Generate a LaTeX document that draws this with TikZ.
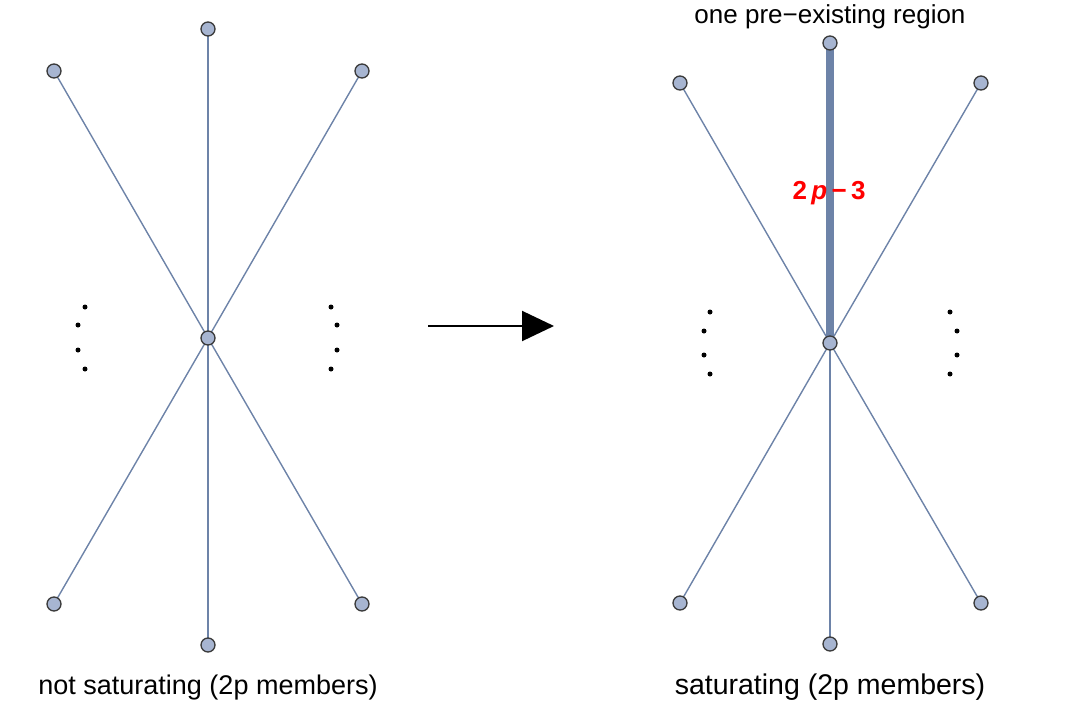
\documentclass[tikz,border=0pt]{standalone}
\usepackage{fontspec}
\setmainfont{Liberation Sans}
\usetikzlibrary{arrows.meta}
\definecolor{edgec}{HTML}{6D83A8}
\definecolor{vfill}{HTML}{A7B5D1}
\definecolor{vdraw}{HTML}{3A3A3A}
\tikzset{
  vtx/.style={circle,draw=vdraw,fill=vfill,line width=1.3pt,minimum size=14pt,inner sep=0pt},
  edge/.style={draw=edgec,line width=1.4pt},
  thickedge/.style={draw=edgec,line width=8pt},
  dotm/.style={circle,fill=black,minimum size=5pt,inner sep=0pt},
  lbl/.style={font=\fontsize{27}{30}\selectfont,inner sep=0pt}
}
\begin{document}
\begin{tikzpicture}[x=1pt,y=-1pt]
\useasboundingbox (0,0) rectangle (1085,728);
% left graph
\coordinate (Lc) at (208,338);
\coordinate (Lt) at (208,29);
\coordinate (Lb) at (208,645);
\coordinate (Lul) at (54,71);
\coordinate (Lur) at (362,71);
\coordinate (Lll) at (54,604);
\coordinate (Llr) at (362,604);
\foreach \p in {Lt,Lb,Lul,Lur,Lll,Llr} \draw[edge] (Lc) -- (\p);
\foreach \p in {Lt,Lb,Lul,Lur,Lll,Llr,Lc} \node[vtx] at (\p) {};
\node[dotm] (ld1) at (85,307) {};
\node[dotm] (ld2) at (78,325) {};
\node[dotm] (ld3) at (78,350) {};
\node[dotm] (ld4) at (85,369) {};
\node[dotm] (rd1) at (331,307) {};
\node[dotm] (rd2) at (337,325) {};
\node[dotm] (rd3) at (337,350) {};
\node[dotm] (rd4) at (331,369) {};
\node[lbl] (lcap) at (208,688) {not saturating (2p members)};
% arrow
\coordinate (a1) at (428,326);
\coordinate (a2) at (554,326);
\draw[line width=2pt,-{Triangle[length=32pt,width=30pt]}] (a1) -- (a2);
% right graph
\coordinate (Rc) at (830,343);
\coordinate (Rt) at (830,43);
\coordinate (Rb) at (830,644);
\coordinate (Rul) at (680,83);
\coordinate (Rur) at (981,83);
\coordinate (Rll) at (680,603);
\coordinate (Rlr) at (981,603);
\foreach \p in {Rb,Rul,Rur,Rll,Rlr} \draw[edge] (Rc) -- (\p);
\draw[thickedge] (Rc) -- (Rt);
\foreach \p in {Rt,Rb,Rul,Rur,Rll,Rlr,Rc} \node[vtx] at (\p) {};
\node[dotm] (ld5) at (710,312) {};
\node[dotm] (ld6) at (704,331) {};
\node[dotm] (ld7) at (704,355) {};
\node[dotm] (ld8) at (710,374) {};
\node[dotm] (rd5) at (950,312) {};
\node[dotm] (rd6) at (957,331) {};
\node[dotm] (rd7) at (957,355) {};
\node[dotm] (rd8) at (950,374) {};
\node[lbl,text=red,font=\fontsize{26}{28}\selectfont\bfseries] (w) at (829,193) {2\,\textit{p}\,\textminus\,3};
\node[lbl,font=\fontsize{26}{28}\selectfont] (top) at (830,17) {one pre\textminus existing region};
\node[lbl,font=\fontsize{28.5}{30}\selectfont] (rcap) at (830,687) {saturating (2p members)};
\end{tikzpicture}
\end{document}
